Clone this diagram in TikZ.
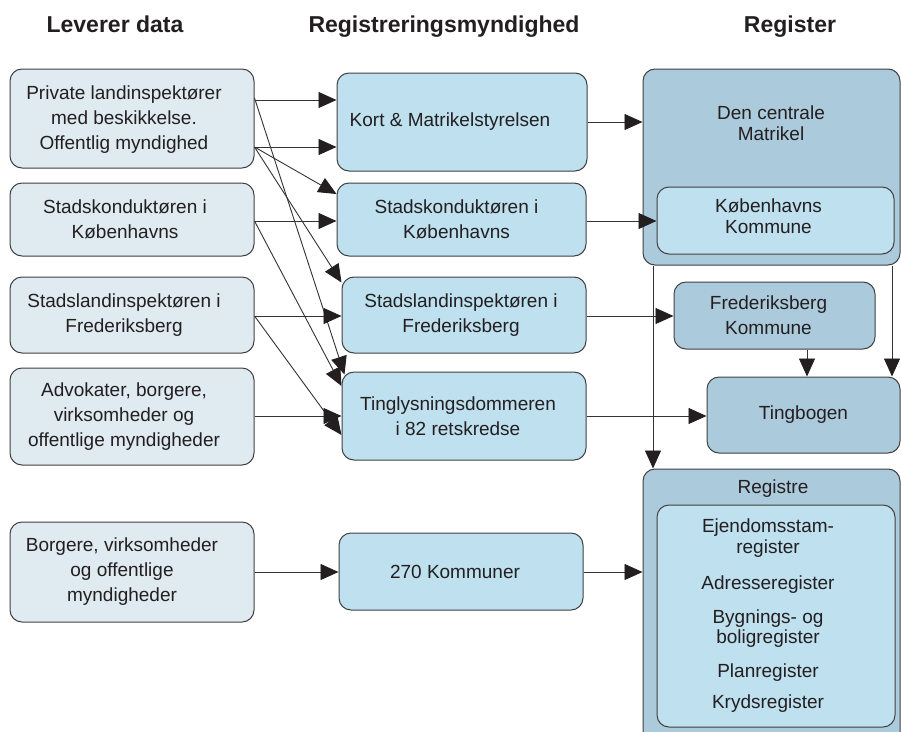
\documentclass[tikz,border=0pt]{standalone}
\usepackage{fontspec}
\setmainfont{Liberation Sans}
\usetikzlibrary{arrows.meta,calc}
\definecolor{leftfill}{HTML}{DFEAF1}
\definecolor{midfill}{HTML}{BEE0EF}
\definecolor{regfill}{HTML}{ABCADB}
\definecolor{bordergray}{HTML}{404040}
\definecolor{textgray}{HTML}{231F20}
\definecolor{linegray}{HTML}{333333}
\begin{document}
\begin{tikzpicture}[x=1pt,y=-1pt,
  box/.style={draw=bordergray, line width=1pt, rounded corners=12pt, inner sep=0pt,
    align=center, text=textgray, font=\fontsize{19}{25}\selectfont},
  tightbox/.style={box, font=\fontsize{19}{21}\selectfont},
  leftbox/.style={box, fill=leftfill},
  midbox/.style={box, fill=midfill},
  regbox/.style={box, fill=regfill},
  lt/.style={text=textgray, align=center, inner sep=0pt, font=\fontsize{19}{25}\selectfont},
  head/.style={anchor=base, text=textgray, font=\fontsize{23}{26}\selectfont\bfseries},
  lbl/.style={text=textgray, align=center, inner sep=0pt, font=\fontsize{19}{21}\selectfont},
  conn/.style={draw=linegray, line width=0.9pt, -{Triangle[length=18pt,width=16pt,color=textgray]}},
  sz/.style 2 args={minimum width=#1, minimum height=#2}
]
\path[use as bounding box, clip] (0,0) rectangle (901,731);
\fill[white] (0,0) rectangle (901,731);

% headers
\node[head] (h1) at (115,32) {Leverer data};
\node[head] (h2) at (444,32) {Registreringsmyndighed};
\node[head] (h3) at (790,32) {Register};

% left column
\node[leftbox, sz={244}{99}, label={[lt, xshift=-8pt, yshift=-1.5pt]center:{Private landinspektører\\med beskikkelse.\\Offentlig myndighed}}] (L1) at (132,118.5) {};
\node[leftbox, sz={244}{73}, label={[lt, xshift=-7pt]center:{Stadskonduktøren i\\Københavns}}] (L2) at (132,219.5) {};
\node[leftbox, sz={244}{76}, label={[lt, xshift=-8pt]center:{Stadslandinspektøren i\\Frederiksberg}}] (L3) at (132,315) {};
\node[leftbox, sz={244}{97}, label={[lt, xshift=-8pt]center:{Advokater, borgere,\\virksomheder og\\offentlige myndigheder}}] (L4) at (132,416.5) {};
\node[leftbox, sz={244}{100}, label={[lt, xshift=-10pt]center:{Borgere, virksomheder\\og offentlige\\myndigheder}}] (L5) at (132,572) {};

% middle column
\node[midbox, sz={250}{98}, label={[lt, xshift=-12pt]center:{Kort \& Matrikelstyrelsen}}] (M1) at (462,122) {};
\node[midbox, sz={249}{73}, label={[lt, xshift=-5pt]center:{Stadskonduktøren i\\Københavns}}] (M2) at (461.5,219.5) {};
\node[midbox, sz={244}{76}, label={[lt, xshift=-3pt]center:{Stadslandinspektøren i\\Frederiksberg}}] (M3) at (464,315) {};
\node[midbox, sz={244}{88}, label={[lt, xshift=-6pt]center:{Tinglysningsdommeren\\i 82 retskredse}}] (M4) at (464,416) {};
\node[midbox, sz={244}{77}, label={[lt, xshift=-6pt]center:{270 Kommuner}}] (M5) at (461,571.5) {};

% right column
\node[regbox, sz={257}{196}] (DCM) at (771.5,167) {};
\node[lbl] (DCMt) at (771,123) {Den centrale\\Matrikel};
\node[tightbox, fill=midfill, sz={237}{67}, label={[lbl, xshift=-7pt, yshift=4pt]center:{Københavns\\Kommune}}] (KK) at (775.5,220.5) {};
\node[regbox, sz={201}{67}, label={[lt, xshift=-6pt]center:{Frederiksberg\\Kommune}}] (FK) at (774.5,315.5) {};
\node[regbox, sz={193}{76}] (TB) at (803.5,415) {Tingbogen};
\node[regbox, sz={257}{276}] (REG) at (771.5,607) {};
\node[lbl] (REGt) at (773,489) {Registre};
\node[tightbox, fill=midfill, sz={238}{222}, font=\fontsize{19}{20.5}\selectfont,
  label={[lbl, xshift=-8pt, font=\fontsize{19}{20.5}\selectfont]center:{Ejendomsstam-\\register\\[16pt]Adresseregister\\[13pt]Bygnings- og\\boligregister\\[13pt]Planregister\\[11pt]Krydsregister}}] (RIN) at (776,616) {};

% left -> middle connectors
\draw[conn] (L1.east |- 0,100) -- (M1.west |- 0,100);
\draw[conn] (L1.east |- 0,147) -- (M1.west |- 0,147);
\draw[conn] (L1.east |- 0,147) -- (M2.west |- 0,194);
\draw[conn] (L1.east |- 0,98) -- ($(M4.north west)+(3,3)$);
\draw[conn] (L1.east |- 0,147) -- ($(M3.north west)+(0,6)$);
\draw[conn] (L2.east |- 0,221) -- (M2.west |- 0,221);
\draw[conn] (L2.east |- 0,221) -- (M4.west |- 0,386);
\draw[conn] (L3.east |- 0,316) -- (M3.west |- 0,316);
\draw[conn] (L3.east |- 0,316) -- (M4.west |- 0,435);
\draw[conn] (L4.east |- 0,416) -- (M4.west |- 0,416);
\draw[conn] (L5.east |- 0,572) -- (M5.west |- 0,572);

% middle -> right connectors
\draw[conn] (M1.east |- 0,122) -- (DCM.west |- 0,122);
\draw[conn] (M2.east |- 0,221) -- (KK.west |- 0,221);
\draw[conn] (M3.east |- 0,316) -- (FK.west |- 0,316);
\draw[conn] (M4.east |- 0,416) -- (TB.west |- 0,416);
\draw[conn] (M5.east |- 0,572) -- (REG.west |- 0,572);

% right column vertical connectors
\draw[conn] (DCM.south -| 653,0) -- (REG.north -| 653,0);
\draw[conn] (DCM.south -| 892,0) -- (TB.north -| 892,0);
\draw[conn] (FK.south -| 807,0) -- (TB.north -| 807,0);
\end{tikzpicture}
\end{document}
